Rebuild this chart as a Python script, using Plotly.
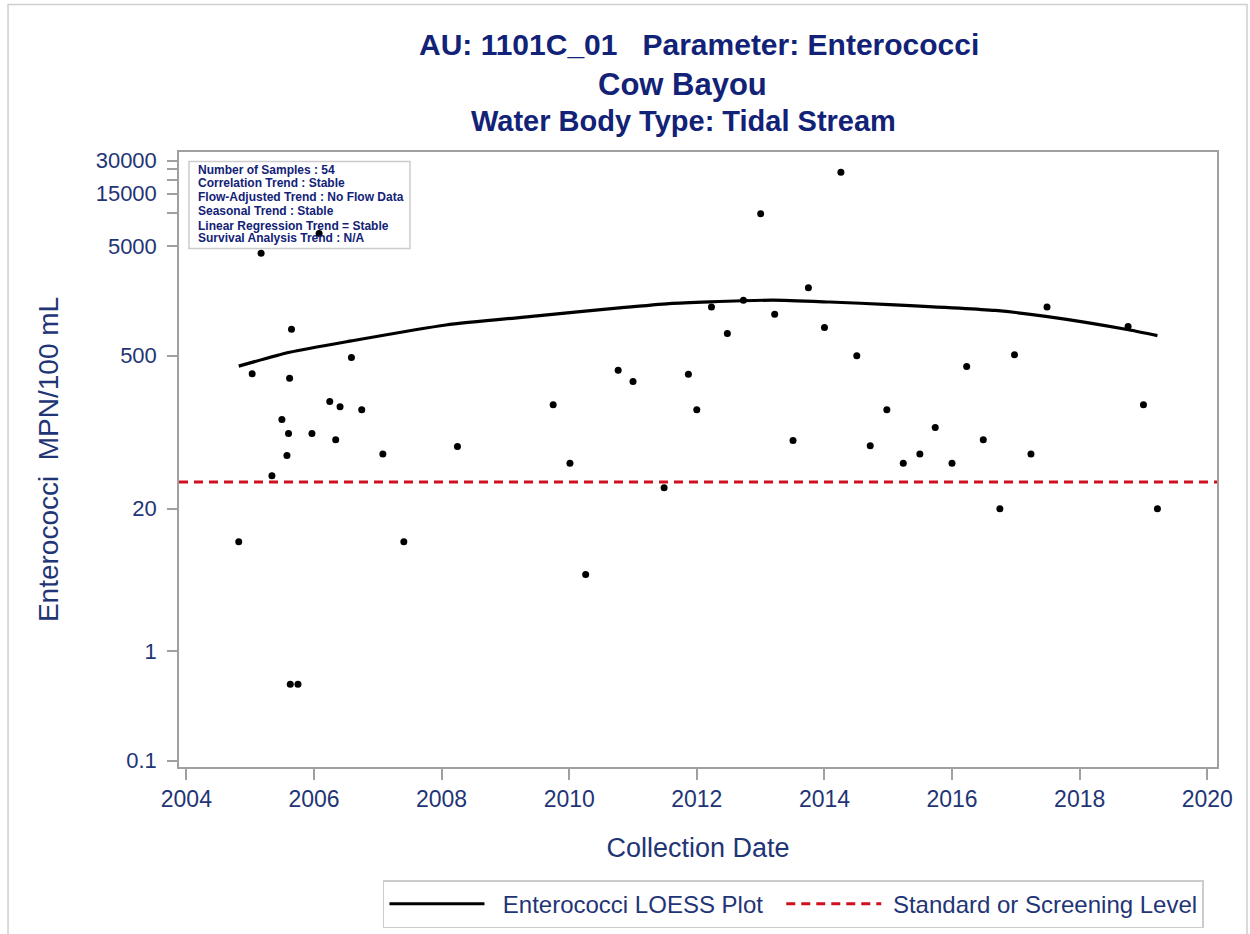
import plotly.graph_objects as go

# ---------------- data ----------------
sample_dates = [
    "2004-10-27", "2005-01-12", "2005-03-04", "2005-05-05", "2005-07-01", "2005-07-30",
    "2005-08-08", "2005-08-14", "2005-08-18", "2005-08-25", "2005-10-01", "2005-12-20",
    "2006-01-30", "2006-04-01", "2006-05-05", "2006-05-30", "2006-08-03", "2006-10-01",
    "2007-01-30", "2007-05-30", "2008-04-01", "2009-10-01", "2010-01-05", "2010-04-05",
    "2010-10-08", "2011-01-01", "2011-06-28", "2011-11-14", "2012-01-01", "2012-03-25",
    "2012-06-24", "2012-09-24", "2013-01-01", "2013-03-22", "2013-07-05", "2013-10-01",
    "2014-01-01", "2014-04-05", "2014-07-05", "2014-09-20", "2014-12-24", "2015-03-28",
    "2015-07-01", "2015-09-27", "2016-01-01", "2016-03-25", "2016-06-28", "2016-10-01",
    "2016-12-24", "2017-03-28", "2017-06-28", "2018-10-05", "2019-01-01", "2019-03-22",
]
sample_values = [
    10, 340, 4300, 40, 130, 61,
    97, 310, 0.5, 870, 0.5, 97,
    6500, 190, 85, 170, 480, 160,
    63, 10, 74, 178, 52, 5,
    367, 289, 31, 337, 160, 1390,
    794, 1600, 9840, 1190, 84, 2075,
    900, 23600, 497, 75, 160, 52,
    63, 110, 52, 396, 85, 20,
    507, 63, 1390, 919, 178, 20,
]

loess_dates = [
    "2004-10-27", "2005-08-14", "2006-08-03", "2008-01-26", "2009-07-01",
    "2010-10-15", "2011-07-27", "2012-03-14", "2013-03-10", "2014-01-30",
    "2015-01-08", "2016-09-05", "2017-06-21", "2018-10-08", "2019-03-22",
]
loess_values = [400, 535, 680, 950, 1150, 1360, 1490, 1545, 1600, 1540, 1460, 1290, 1140, 860, 760]

standard_level = 35

y_tickvals = [0.1, 1, 20, 500, 5000, 10000, 15000, 20000, 25000, 30000]
y_ticktext = ["0.1", "1", "20", "500", "5000", "", "15000", "", "", "30000"]

stats_lines = [
    "Number of Samples : 54",
    "Correlation Trend : Stable",
    "Flow-Adjusted Trend : No Flow Data",
    "Seasonal Trend : Stable",
    "Linear Regression Trend = Stable",
    "Survival Analysis Trend : N/A",
]

title_lines = [
    "AU: 1101C_01\u00a0\u00a0\u00a0Parameter: Enterococci",
    "Cow Bayou",
    "Water Body Type: Tidal Stream",
]

legend_names = ["Enterococci LOESS Plot", "Standard or Screening Level"]

# ---------------- styles ----------------
FONT = "Liberation Sans, Arial, sans-serif"
NAVY = "#112277"
TEXT = "#1f3576"
FRAME = "#a0a0a0"
NB = "\u00a0"

fig = go.Figure()

fig.add_trace(go.Scatter(
    x=loess_dates, y=loess_values, mode="lines",
    line=dict(color="black", width=3.2, shape="spline", smoothing=0.6),
    name=NB * 2 + legend_names[0] + NB * 2, legendrank=1,
))

fig.add_trace(go.Scatter(
    x=sample_dates, y=sample_values, mode="markers",
    marker=dict(color="black", size=7),
    showlegend=False, name="Samples",
))

fig.add_hline(
    y=standard_level,
    line=dict(color="#d0101e", width=3, dash="9px,6px"),
    showlegend=True, name=NB + legend_names[1], legendrank=2,
    layer="above",
)

# outer border
fig.add_shape(type="rect", xref="paper", yref="paper",
              x0=-0.1647, x1=1.0289, y0=-0.30, y1=1.240,
              line=dict(color="#cfcfcf", width=1.5), layer="below")
# stats box
fig.add_shape(type="rect", xref="paper", yref="paper",
              x0=0.0096, x1=0.2225, y0=0.843, y1=0.9845,
              line=dict(color="#cccccc", width=1.5), layer="below")

stat_y = [0.9715, 0.9493, 0.9271, 0.9044, 0.8804, 0.8598]
for txt, yy in zip(stats_lines, stat_y):
    fig.add_annotation(text="<b>%s</b>" % txt, xref="paper", yref="paper",
                       x=0.0164, y=yy, xanchor="left", yanchor="middle",
                       showarrow=False, font=dict(family=FONT, size=12, color=NAVY))

title_y = [1.175, 1.110, 1.051]
title_x = [0.501, 0.4855, 0.4865]
title_size = [30, 31, 29]
for txt, xx, yy, sz in zip(title_lines, title_x, title_y, title_size):
    fig.add_annotation(text="<b>%s</b>" % txt, xref="paper", yref="paper",
                       x=xx, y=yy, xanchor="center", yanchor="middle",
                       showarrow=False, font=dict(family=FONT, size=sz, color=NAVY))

fig.update_layout(
    width=1250, height=934,
    margin=dict(l=179, r=33, t=152, b=167, autoexpand=False),
    paper_bgcolor="white", plot_bgcolor="white",
    font=dict(family=FONT, color=TEXT),
    showlegend=True,
    legend=dict(
        orientation="h", x=0.1965, y=-0.184, xanchor="left", yanchor="top",
        bordercolor="#cccccc", borderwidth=1.5, itemwidth=95,
        font=dict(family=FONT, size=24, color=TEXT),
        traceorder="normal",
    ),
)

fig.update_xaxes(
    type="date",
    range=["2003-11-20", "2020-02-26"],
    tick0="2004-01-01", dtick="M24", tickformat="%Y",
    ticks="outside", ticklen=11, tickcolor=FRAME, tickwidth=1.5,
    showline=True, linecolor=FRAME, linewidth=1.5, mirror=True,
    showgrid=False, zeroline=False,
    tickfont=dict(family=FONT, size=23, color=TEXT),
    title=dict(text="Collection Date", font=dict(family=FONT, size=27, color=TEXT), standoff=27),
)

fig.update_yaxes(
    type="log",
    range=[-1.0575, 4.557],
    tickvals=y_tickvals, ticktext=y_ticktext,
    ticks="outside", ticklen=10, tickcolor=FRAME, tickwidth=1.5,
    showline=True, linecolor=FRAME, linewidth=1.5, mirror=True,
    showgrid=False, zeroline=False,
    tickfont=dict(family=FONT, size=22, color=TEXT),
    ticklabelstandoff=6,
    title=dict(text="Enterococci\u00a0\u00a0MPN/100 mL", font=dict(family=FONT, size=28, color=TEXT), standoff=29),
)

fig.write_html("out.html")
